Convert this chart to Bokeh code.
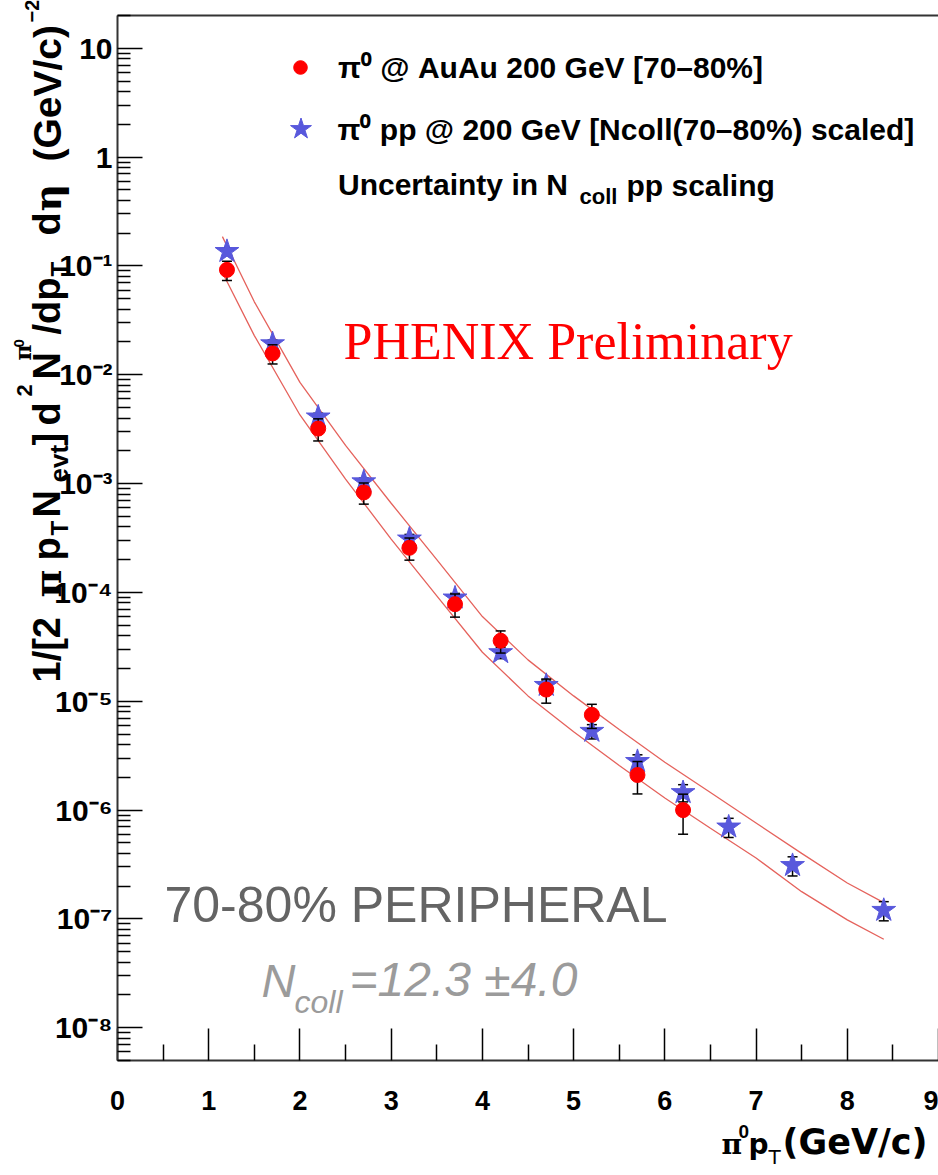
import math
from bokeh.plotting import figure
from bokeh.models import (Range1d, FixedTicker, CustomJSTickFormatter, LinearAxis,
                          ColumnDataSource, Label, Legend, LegendItem)
from bokeh.embed import file_html
from bokeh.resources import INLINE

# pi0 invariant yields, 70-80% centrality
pt_auau = [1.2, 1.7, 2.2, 2.7, 3.2, 3.7, 4.2, 4.7, 5.2, 5.7, 6.2]
yield_auau = [0.092, 0.0157, 3.2e-3, 8.3e-4, 2.57e-4, 7.8e-5, 3.6e-5, 1.28e-5, 7.5e-6, 2.1e-6, 1.0e-6]
relerr_auau = [0.20, 0.20, 0.23, 0.22, 0.23, 0.24, 0.23, 0.25, 0.25, 0.33, 0.40]

# pp reference scaled by Ncoll
pt_pp = [1.2, 1.7, 2.2, 2.7, 3.2, 3.7, 4.2, 4.7, 5.2, 5.7, 6.2, 6.7, 7.4, 8.4]
yield_pp = [0.136, 0.0193, 4.1e-3, 1.04e-3, 3.1e-4, 8.9e-5, 2.8e-5, 1.4e-5, 5.3e-6, 2.8e-6,
            1.45e-6, 7.0e-7, 3.1e-7, 1.2e-7]
relerr_pp = [0.08, 0.08, 0.08, 0.08, 0.10, 0.10, 0.12, 0.12, 0.15, 0.15, 0.18, 0.20, 0.20, 0.20]

# Ncoll uncertainty band around the scaled pp fit
pt_band = [1.15, 1.5, 2.0, 2.5, 3.0, 3.5, 4.0, 4.5, 5.0, 5.5, 6.0, 6.5, 7.0, 7.5, 8.0, 8.4]
band_upper = [1.86e-1, 4.68e-2, 8.5e-3, 2.24e-3, 6.6e-4, 2.0e-4, 6.0e-5, 2.4e-5, 1.12e-5,
              5.5e-6, 2.75e-6, 1.45e-6, 7.6e-7, 4.0e-7, 2.14e-7, 1.41e-7]
band_lower = [8.7e-2, 2.29e-2, 4.27e-3, 1.10e-3, 3.09e-4, 9.3e-5, 2.82e-5, 1.12e-5, 5.25e-6,
              2.57e-6, 1.29e-6, 6.8e-7, 3.63e-7, 1.78e-7, 9.8e-8, 6.5e-8]

x_lo, x_hi = 0.0, 9.0
y_lo, y_hi = 5e-9, 20.0
x_ticks = list(range(10))
y_decades = list(range(-8, 2))

# canvas and axis-box geometry (pixels); the frame fills the canvas and the
# axes are pinned at the box edges so that text can sit anywhere on the page
W, H = 938, 1175
BOX_L, BOX_R, BOX_T, BOX_B = 117, 938, 15, 1060

ux = (x_hi - x_lo) / (BOX_R - BOX_L)
x_start = x_lo - BOX_L * ux
x_end = x_hi + (W - BOX_R) * ux
uy = (math.log10(y_hi) - math.log10(y_lo)) / (BOX_B - BOX_T)
y_start = 10 ** (math.log10(y_lo) - (H - BOX_B) * uy)
y_end = 10 ** (math.log10(y_hi) + BOX_T * uy)

p = figure(width=W, height=H, y_axis_type="log",
           x_range=Range1d(x_start, x_end), y_range=Range1d(y_start, y_end),
           output_backend="svg", toolbar_location=None,
           min_border_left=0, min_border_right=0, min_border_top=0, min_border_bottom=0)
p.outline_line_color = None
p.grid.visible = False
p.background_fill_color = "white"
p.border_fill_color = "white"

xa = p.xaxis[0]
ya = p.yaxis[0]
xa.fixed_location = y_lo
xa.bounds = (x_lo, x_hi)
ya.fixed_location = x_lo
ya.bounds = (y_lo, y_hi)

xa.ticker = FixedTicker(ticks=x_ticks, minor_ticks=[t + 0.5 for t in x_ticks[:-1]])
y_minor = [m * 10.0 ** k for k in range(-9, 2) for m in range(2, 10)]
ya.ticker = FixedTicker(ticks=[10.0 ** k for k in y_decades],
                        minor_ticks=[t for t in y_minor if y_lo * 0.999 <= t <= y_hi * 1.001])
ya.formatter = CustomJSTickFormatter(code="""
const e = Math.round(Math.log10(tick));
if (e === 1) return "10";
if (e === 0) return "1";
const sup = {"-": "\u207b", "0": "\u2070", "1": "\u00b9", "2": "\u00b2", "3": "\u00b3",
             "4": "\u2074", "5": "\u2075", "6": "\u2076", "7": "\u2077", "8": "\u2078", "9": "\u2079"};
return "10" + String(e).split("").map(c => sup[c]).join("");
""")

for ax in (xa, ya):
    ax.axis_line_color = "#333333"
    ax.axis_line_width = 2
    ax.major_tick_line_color = "black"
    ax.minor_tick_line_color = "black"
    ax.major_tick_line_width = 1.5
    ax.minor_tick_line_width = 1.5
    ax.major_tick_out = 0
    ax.minor_tick_out = 0
    ax.major_label_text_font = "Liberation Sans"
    ax.major_label_text_font_style = "bold"
    ax.major_label_text_color = "black"

xa.major_tick_in = 32
xa.minor_tick_in = 16
xa.major_label_text_font_size = "27px"
xa.major_label_standoff = 30

ya.major_tick_in = 25
ya.minor_tick_in = 13
ya.major_label_text_font_size = "30px"
ya.major_label_standoff = 5

top_axis = LinearAxis(ticker=FixedTicker(ticks=[]), fixed_location=y_hi, bounds=(x_lo, x_hi),
                      axis_line_color="#333333", axis_line_width=2,
                      major_tick_in=0, major_tick_out=0, minor_tick_in=0, minor_tick_out=0)
p.add_layout(top_axis, "above")

# Ncoll uncertainty band
band_color = "#e5625c"
p.line(pt_band, band_upper, line_color=band_color, line_width=1.3)
p.line(pt_band, band_lower, line_color=band_color, line_width=1.3)


def error_source(xs, ys, errs):
    return ColumnDataSource(dict(
        x=xs, y=ys,
        lo=[y * (1 - e) for y, e in zip(ys, errs)],
        hi=[y * (1 + e) for y, e in zip(ys, errs)],
    ))


src_pp = error_source(pt_pp, yield_pp, relerr_pp)
src_auau = error_source(pt_auau, yield_auau, relerr_auau)


def error_bars(src):
    p.segment("x", "lo", "x", "hi", source=src, line_color="black", line_width=1.5)
    for end in ("lo", "hi"):
        p.scatter("x", end, source=src, marker="dash", size=10, line_color="black", line_width=1.5)


error_bars(src_pp)
r_pp = p.scatter("x", "y", source=src_pp, marker="star", size=25,
                 fill_color="#5858dc", line_color="#5858dc")
error_bars(src_auau)
r_auau = p.scatter("x", "y", source=src_auau, marker="circle", size=15,
                   fill_color="#ff0000", line_color="#ff0000")
r_unc = p.scatter(x=[], y=[], marker="circle", size=2, fill_color="black", line_color="black")

LEG_PX = 30


def legend_box(renderer, text, cx, cy, glyph_w, glyph_h, text_x):
    leg = Legend(items=[LegendItem(label=text, renderers=[renderer])],
                 location=(cx - glyph_w / 2, H - (cy + glyph_h / 2)),
                 glyph_width=glyph_w, glyph_height=glyph_h, label_height=glyph_h,
                 label_standoff=int(text_x - (cx + glyph_w / 2)),
                 padding=0, margin=0, spacing=0,
                 border_line_color=None, background_fill_alpha=0,
                 label_text_font="Liberation Sans", label_text_font_style="bold",
                 label_text_font_size=f"{LEG_PX}px", label_text_color="black")
    p.add_layout(leg)


legend_box(r_auau, "\u03c0\u2070 @ AuAu 200 GeV [70\u201380%]", 300, 70, 34, 34, 338)
legend_box(r_pp, "\u03c0\u2070 pp @ 200 GeV [Ncoll(70\u201380%) scaled]", 300, 128, 55, 55, 338)
legend_box(r_unc, "Uncertainty in N", 300, 185, 6, 34, 338)

# text is anchored on its baseline; the renderer centres it on the anchor,
# so move the anchor by the baseline-to-centre distance
DROP = 0.37


def label(text, bx, by, size, font="Liberation Sans", style="bold", color="black", rotated=False):
    if rotated:
        bx -= DROP * size
    else:
        by -= DROP * size
    p.add_layout(Label(x=bx, y=H - by, x_units="screen", y_units="screen", text=text,
                       text_font=font, text_font_style=style, text_font_size=f"{size}px",
                       text_color=color, angle=math.pi / 2 if rotated else 0.0,
                       text_align="left", text_baseline="alphabetic"))


label("coll", 579, 204, 22)
label("pp scaling", 626, 196, LEG_PX)

# annotations inside the axis box
label("PHENIX Preliminary", 343, 360, 52, font="Liberation Serif", style="normal", color="#ff0000")
label("70-80% PERIPHERAL", 164, 923, 50, style="normal", color="#646464")
label("N", 261, 997, 47, style="italic", color="#9b9b9b")
label("coll", 294, 1013, 32, style="italic", color="#9b9b9b")
label("=12.3 \u00b14.0", 349, 997, 48, style="italic", color="#9b9b9b")

# x-axis title
label("\u03c0", 721, 1154, 28, font="DejaVu Serif")
label("0", 738, 1138, 19, font="Liberation Sans")
label("p", 748, 1154, 28, font="DejaVu Sans")
label("T", 768, 1164, 20, font="DejaVu Sans", style="normal")
label("(GeV/c)", 782, 1154, 35, font="DejaVu Sans")

# y-axis title, rotated, read bottom to top: (text, start y, baseline x, size, font)
BASE, SUB = 61, 68
y_title = [
    ("1/[2", 682, BASE, 38, "Liberation Sans"),
    ("\u03c0", 597, BASE, 38, "DejaVu Serif"),
    ("p", 560, BASE, 38, "Liberation Sans"),
    ("T", 535, SUB, 24, "Liberation Sans"),
    ("N", 517, BASE, 38, "Liberation Sans"),
    ("evt", 482, SUB, 26, "Liberation Sans"),
    ("]", 445, BASE, 38, "Liberation Sans"),
    ("d", 425, BASE, 38, "Liberation Sans"),
    ("2", 396, 32, 22, "Liberation Sans"),
    ("N", 379, BASE, 38, "Liberation Sans"),
    ("\u03c0", 360, 31, 22, "DejaVu Serif"),
    ("0", 347, 24, 15, "Liberation Sans"),
    ("/dp", 334, BASE, 38, "Liberation Sans"),
    ("T", 276, SUB, 24, "Liberation Sans"),
    ("d", 235, BASE, 38, "Liberation Sans"),
    ("\u03b7", 211, BASE, 38, "DejaVu Serif"),
    ("(GeV/c)", 161, BASE, 39, "Liberation Sans"),
    ("\u22122", 22, 39, 20, "Liberation Sans"),
]
for text, by, bx, size, font in y_title:
    label(text, bx, by, size, font=font, rotated=True)

open("out.html", "w").write(file_html(p, INLINE))
